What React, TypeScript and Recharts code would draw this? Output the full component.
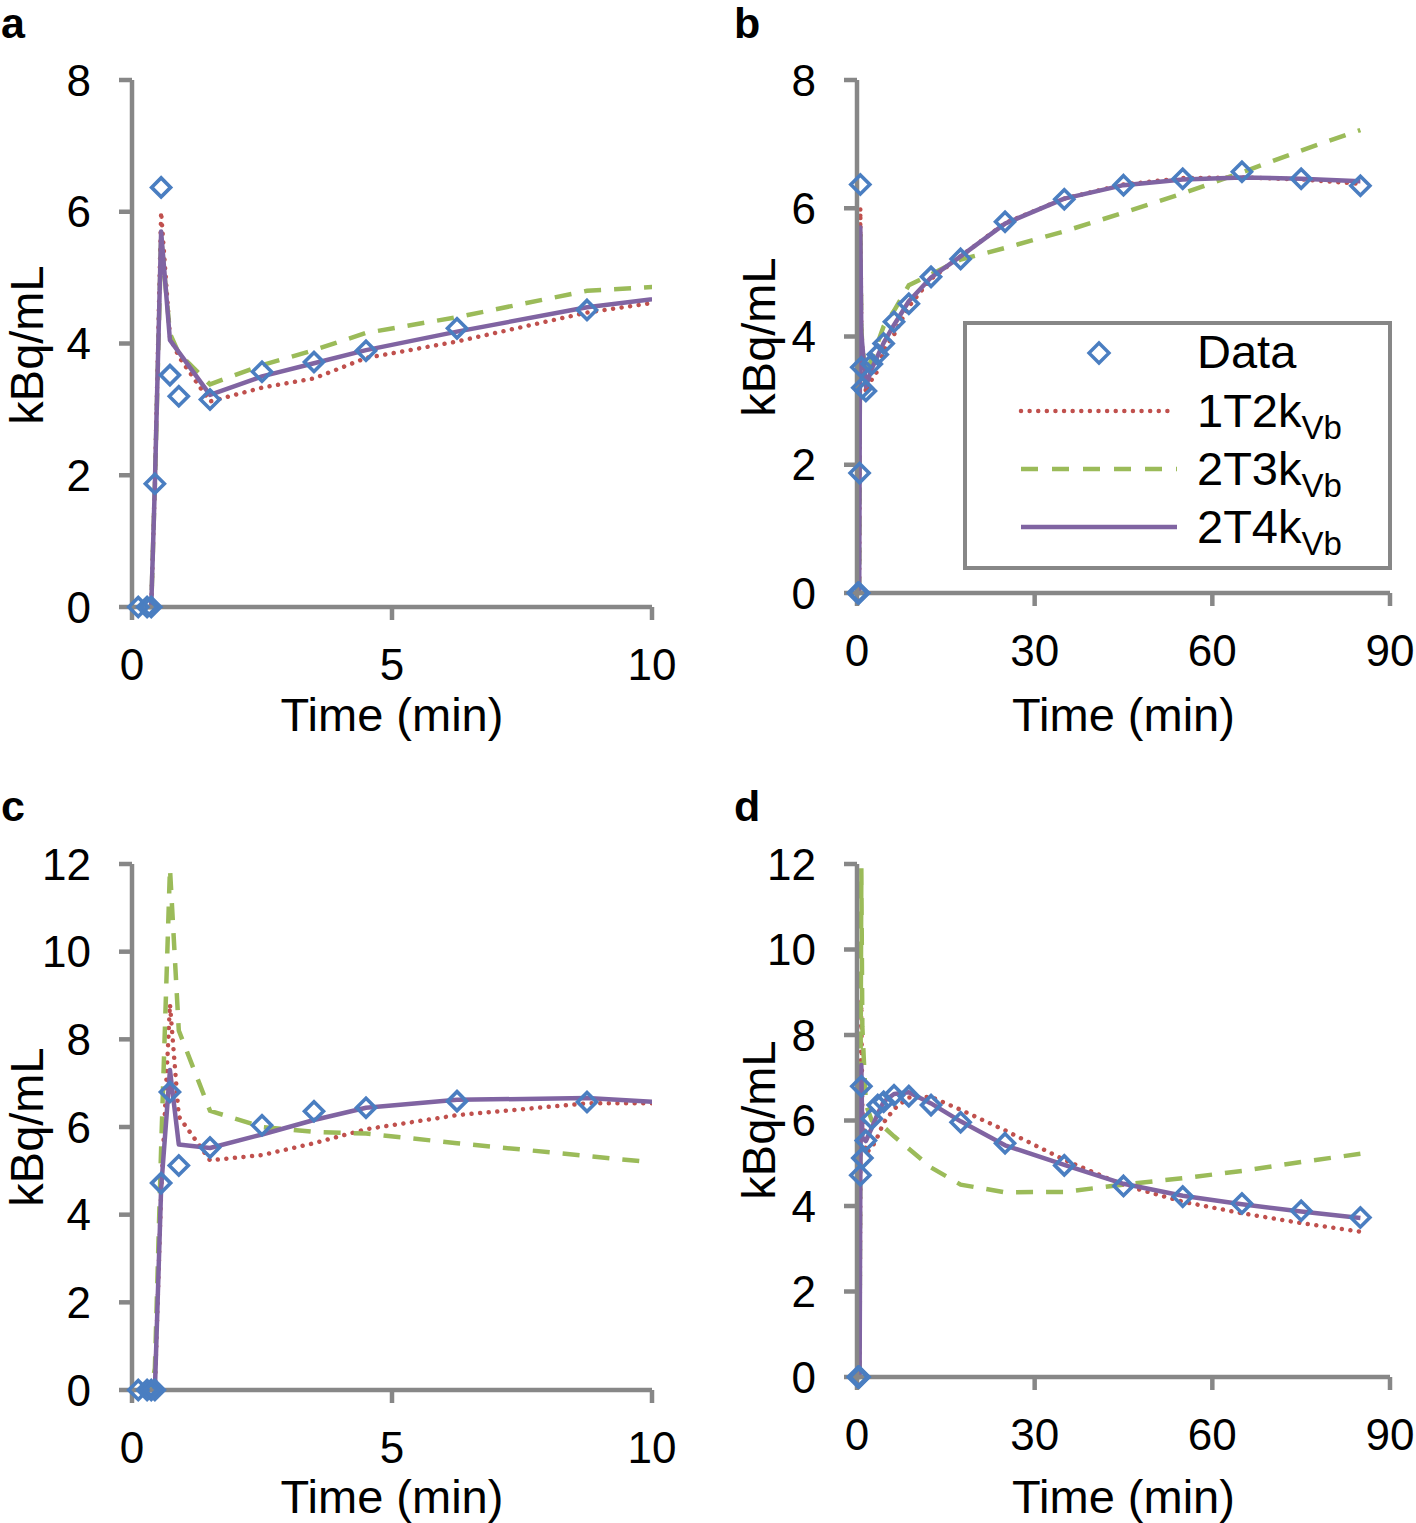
import React from 'react';
import { ComposedChart, Line, Scatter, XAxis, YAxis, Legend } from 'recharts';

// Frame mid-times (min)
const timesMin = [0.12, 0.29, 0.37, 0.44, 0.56, 0.73, 0.9, 1.5, 2.5, 3.5, 4.5, 6.25, 8.75, 12.5, 17.5, 25, 35, 45, 55, 65, 75, 85];

// Case 1 (panels a, b) — kBq/mL
const measured1 = [0, 0, 0, 1.87, 6.37, 3.52, 3.2, 3.15, 3.57, 3.72, 3.89, 4.23, 4.51, 4.93, 5.21, 5.79, 6.14, 6.36, 6.46, 6.57, 6.46, 6.35];
const fit1T2k1 = [0, 0, 0, 1.9, 6.0, 4.1, 3.8, 3.12, 3.33, 3.47, 3.78, 4.03, 4.47, 4.9, 5.25, 5.77, 6.15, 6.37, 6.47, 6.48, 6.45, 6.38];
const fit2T3k1 = [0, 0, 0, 1.85, 5.6, 4.15, 3.85, 3.38, 3.67, 3.9, 4.16, 4.4, 4.8, 4.97, 5.2, 5.38, 5.64, 5.93, 6.23, 6.56, 6.9, 7.22];
const fit2T4k1 = [0, 0, 0, 1.87, 5.7, 4.05, 3.87, 3.22, 3.5, 3.7, 3.9, 4.18, 4.55, 4.92, 5.25, 5.76, 6.15, 6.36, 6.45, 6.48, 6.46, 6.42];

// Case 2 (panels c, d) — kBq/mL
const measured2 = [0, 0, 0, 0, 4.72, 6.8, 5.12, 5.53, 6.04, 6.36, 6.44, 6.59, 6.57, 6.36, 5.96, 5.47, 4.95, 4.47, 4.22, 4.06, 3.89, 3.73];
const fit1T2k2 = [0, 0, 0, 0, 4.5, 8.8, 6.24, 5.24, 5.36, 5.63, 5.95, 6.27, 6.54, 6.55, 6.25, 5.77, 5.08, 4.49, 4.1, 3.83, 3.6, 3.4];
const fit2T3k2 = [0, 0, 0, 0.5, 5.5, 11.9, 8.2, 6.37, 6.0, 5.89, 5.85, 5.63, 5.34, 4.9, 4.5, 4.32, 4.33, 4.5, 4.65, 4.82, 5.03, 5.22];
const fit2T4k2 = [0, 0, 0, 0, 4.6, 7.3, 5.6, 5.52, 5.83, 6.16, 6.44, 6.62, 6.66, 6.4, 5.98, 5.42, 4.96, 4.52, 4.24, 4.04, 3.87, 3.72];

const xTicksShort = [0, 5, 10];
const xTicksLong = [0, 30, 60, 90];
const yTicks8 = [0, 2, 4, 6, 8];
const yTicks12 = [0, 2, 4, 6, 8, 10, 12];

const seriesNames = ['Data', '1T2k', '2T3k', '2T4k'];

const buildRows = (meas: number[], a: number[], b: number[], c: number[]) =>
  timesMin.map((t, i) => ({ t, data: meas[i], m1: a[i], m2: b[i], m3: c[i] }));

const rows1 = buildRows(measured1, fit1T2k1, fit2T3k1, fit2T4k1);
const rows2 = buildRows(measured2, fit1T2k2, fit2T3k2, fit2T4k2);

const FONT = '"Liberation Sans", Arial, Helvetica, sans-serif';
const AXIS = '#878787';
const BLUE = '#4A7EC1';
const RED = '#C0504D';
const GREEN = '#9BBB59';
const PURPLE = '#8064A2';

const Diamond = (props: any) => {
  const { cx, cy } = props;
  if (cx == null || cy == null) return null;
  const r = 9.5;
  return (
    <path
      d={`M${cx},${cy - r}L${cx + r},${cy}L${cx},${cy + r}L${cx - r},${cy}Z`}
      fill="none"
      stroke={BLUE}
      strokeWidth={3.6}
    />
  );
};

const LegendBox = () => (
  <svg width={432} height={252} style={{ display: 'block' }}>
    <rect x={2} y={2} width={425} height={245} fill="#fff" stroke={AXIS} strokeWidth={4} />
    <path d="M136,22L146,32L136,42L126,32Z" fill="none" stroke={BLUE} strokeWidth={3.4} />
    <text x={234} y={47} fontFamily={FONT} fontSize={47} fill="#000">{seriesNames[0]}</text>
    <line x1={58} x2={212} y1={90} y2={90} stroke={RED} strokeWidth={4.5} strokeDasharray="0.01 8.6" strokeLinecap="round" />
    <text x={234} y={106} fontFamily={FONT} fontSize={47} fill="#000">
      {seriesNames[1]}<tspan fontSize={33} dy={12}>Vb</tspan>
    </text>
    <line x1={58} x2={214} y1={148} y2={148} stroke={GREEN} strokeWidth={4.5} strokeDasharray="17 14" />
    <text x={234} y={164} fontFamily={FONT} fontSize={47} fill="#000">
      {seriesNames[2]}<tspan fontSize={33} dy={12}>Vb</tspan>
    </text>
    <line x1={58} x2={214} y1={206} y2={206} stroke={PURPLE} strokeWidth={4.5} />
    <text x={234} y={222} fontFamily={FONT} fontSize={47} fill="#000">
      {seriesNames[3]}<tspan fontSize={33} dy={12}>Vb</tspan>
    </text>
  </svg>
);

type PanelCfg = {
  rows: any[];
  xMax: number;
  xTicks: number[];
  yMax: number;
  yTicks: number[];
  box: { left: number; top: number; width: number; height: number };
  plot: { left: number; top: number; right: number; bottom: number };
  xTitleBaseline: number;
  yTitle: { x: number; y: number };
  legend?: boolean;
  clip: boolean;
};

const Panel = ({ cfg }: { cfg: PanelCfg }) => {
  const { box, plot } = cfg;
  const margin = {
    top: plot.top - box.top,
    right: box.left + box.width - plot.right,
    left: 0,
    bottom: 0,
  };
  const yAxisWidth = plot.left - box.left;
  const xAxisHeight = box.top + box.height - plot.bottom;
  const cxTitle = (plot.left + plot.right) / 2 - box.left;
  const scatterRows = cfg.rows.filter((r) => r.t <= cfg.xMax);
  const tickStyle = { fontFamily: FONT, fontSize: 44, fill: '#000' };
  return (
    <div style={{ position: 'absolute', left: box.left, top: box.top, width: box.width, height: box.height }}>
      <ComposedChart width={box.width} height={box.height} data={cfg.rows} margin={margin}>
        <XAxis
          xAxisId="main"
          dataKey="t"
          type="number"
          domain={[0, cfg.xMax]}
          ticks={cfg.xTicks}
          allowDataOverflow={cfg.clip}
          height={xAxisHeight}
          tickSize={13}
          tickMargin={29}
          axisLine={{ stroke: AXIS, strokeWidth: 4.5 }}
          tickLine={{ stroke: AXIS, strokeWidth: 4.5 }}
          tick={tickStyle}
          interval={0}
          label={{
            content: () => (
              <text x={cxTitle} y={cfg.xTitleBaseline - box.top} textAnchor="middle" fontFamily={FONT} fontSize={47} fill="#000">
                Time (min)
              </text>
            ),
          }}
        />
        <XAxis xAxisId="pts" dataKey="t" type="number" domain={[0, cfg.xMax]} hide />
        <YAxis
          type="number"
          domain={[0, cfg.yMax]}
          ticks={cfg.yTicks}
          width={yAxisWidth}
          tickSize={13}
          tickMargin={28}
          interval={0}
          axisLine={{ stroke: AXIS, strokeWidth: 4.5 }}
          tickLine={{ stroke: AXIS, strokeWidth: 4.5 }}
          tick={tickStyle}
          label={{
            content: () => (
              <text
                x={cfg.yTitle.x - box.left}
                y={cfg.yTitle.y - box.top}
                textAnchor="middle"
                transform={`rotate(-90 ${cfg.yTitle.x - box.left} ${cfg.yTitle.y - box.top})`}
                fontFamily={FONT}
                fontSize={47}
                fill="#000"
              >
                kBq/mL
              </text>
            ),
          }}
        />
        <Line
          xAxisId="main"
          dataKey="m1"
          name="1T2k"
          type="linear"
          stroke={RED}
          strokeWidth={4.5}
          strokeDasharray="0.01 8.6"
          strokeLinecap="round"
          dot={false}
          activeDot={false}
          isAnimationActive={false}
        />
        <Line
          xAxisId="main"
          dataKey="m2"
          name="2T3k"
          type="linear"
          stroke={GREEN}
          strokeWidth={4.5}
          strokeDasharray="17 13"
          dot={false}
          activeDot={false}
          isAnimationActive={false}
        />
        <Line
          xAxisId="main"
          dataKey="m3"
          name="2T4k"
          type="linear"
          stroke={PURPLE}
          strokeWidth={4.5}
          strokeLinejoin="round"
          dot={false}
          activeDot={false}
          isAnimationActive={false}
        />
        <Scatter
          xAxisId="pts"
          data={scatterRows}
          dataKey="data"
          name="Data"
          shape={<Diamond />}
          isAnimationActive={false}
        />
        {cfg.legend ? (
          <Legend
            layout="horizontal"
            verticalAlign="middle"
            align="center"
            content={() => <LegendBox />}
            wrapperStyle={{ position: 'absolute', left: 965 - box.left - 2, top: 323 - box.top - 2, width: 432, height: 252, margin: 0, padding: 0 }}
          />
        ) : null}
      </ComposedChart>
    </div>
  );
};

const panels: PanelCfg[] = [
  {
    rows: rows1, xMax: 10, xTicks: xTicksShort, yMax: 8, yTicks: yTicks8,
    box: { left: 0, top: 0, width: 700, height: 750 },
    plot: { left: 132, top: 80, right: 652, bottom: 607 },
    xTitleBaseline: 731, yTitle: { x: 43, y: 345 }, clip: true,
  },
  {
    rows: rows1, xMax: 90, xTicks: xTicksLong, yMax: 8, yTicks: yTicks8,
    box: { left: 708, top: 0, width: 708, height: 750 },
    plot: { left: 857, top: 80, right: 1390, bottom: 593 },
    xTitleBaseline: 731, yTitle: { x: 775, y: 337 }, legend: true, clip: false,
  },
  {
    rows: rows2, xMax: 10, xTicks: xTicksShort, yMax: 12, yTicks: yTicks12,
    box: { left: 0, top: 760, width: 700, height: 763 },
    plot: { left: 132, top: 864, right: 652, bottom: 1390 },
    xTitleBaseline: 1513, yTitle: { x: 43, y: 1127 }, clip: true,
  },
  {
    rows: rows2, xMax: 90, xTicks: xTicksLong, yMax: 12, yTicks: yTicks12,
    box: { left: 708, top: 760, width: 708, height: 763 },
    plot: { left: 857, top: 864, right: 1390, bottom: 1377 },
    xTitleBaseline: 1513, yTitle: { x: 775, y: 1120 }, clip: false,
  },
];

const panelLetters = [
  { text: 'a', x: 1, y: 38 },
  { text: 'b', x: 734, y: 38 },
  { text: 'c', x: 1, y: 821 },
  { text: 'd', x: 734, y: 821 },
];

export default function App() {
  return (
    <div style={{ position: 'absolute', left: 0, top: 0, width: 1416, height: 1523, background: '#fff', overflow: 'hidden' }}>
      {panels.map((p, i) => (
        <Panel key={i} cfg={p} />
      ))}
      <svg width={1416} height={1523} style={{ position: 'absolute', left: 0, top: 0, pointerEvents: 'none' }}>
        {panelLetters.map((l) => (
          <text key={l.text} x={l.x} y={l.y} fontFamily={FONT} fontWeight="bold" fontSize={43} fill="#000">
            {l.text}
          </text>
        ))}
      </svg>
    </div>
  );
}
